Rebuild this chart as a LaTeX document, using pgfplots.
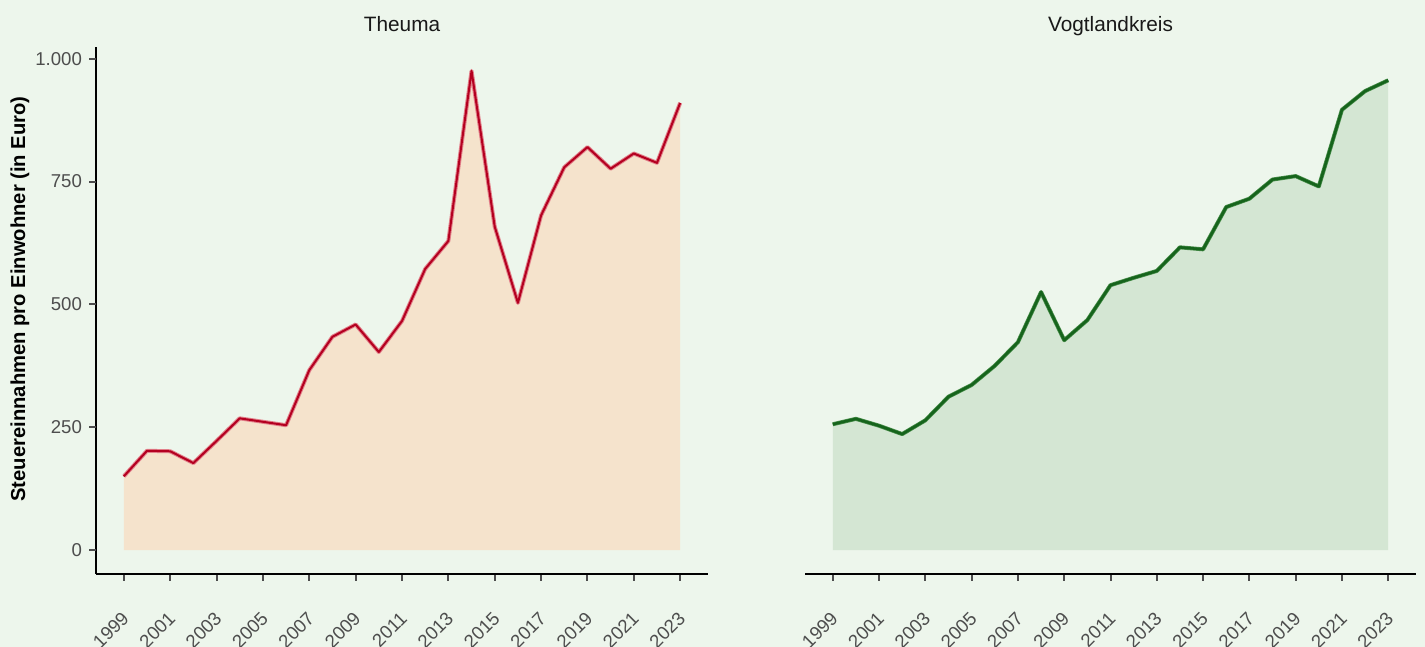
\documentclass[border=0pt]{standalone}
\usepackage{fontspec}
\setmainfont{Liberation Sans}
\usepackage{pgfplots}
\pgfplotsset{compat=1.18}
\definecolor{bgc}{RGB}{237,246,236}
\definecolor{peach}{RGB}{245,227,204}
\definecolor{redline}{RGB}{180,0,32}
\definecolor{redhalo}{RGB}{226,128,138}
\definecolor{greenfill}{RGB}{212,230,211}
\definecolor{greenline}{RGB}{22,100,28}
\definecolor{greenhalo}{RGB}{70,140,72}
\definecolor{tickgray}{RGB}{77,77,77}
\pgfplotsset{
  panel/.style={
    scale only axis,
    height=263.5pt,
    xmin=1997.8, xmax=2024.2,
    ymin=-48.75, ymax=1023.75,
    xtick={1999,2001,2003,2005,2007,2009,2011,2013,2015,2017,2019,2021,2023},
    xticklabels={1999,2001,2003,2005,2007,2009,2011,2013,2015,2017,2019,2021,2023},
    xticklabel style={xshift=-1.5pt, yshift=-14.5pt, rotate=45, anchor=north east, inner sep=0pt, font=\fontsize{9.3}{11}\selectfont, text=tickgray},
    title style={at={(0.5,1)}, anchor=base, yshift=1.7pt, font=\fontsize{10.4}{12}\selectfont, text=black!90},
    axis line style={-, black, line width=0.55pt},
    tick align=outside,
    major tick length=3.5pt,
    every tick/.style={draw=tickgray, line width=1pt},
  }
}
\begin{document}
\begin{tikzpicture}
\path[use as bounding box, fill=bgc] (0,0) rectangle (712.5pt,323.5pt);
\begin{axis}[panel, at={(48pt,36.5pt)}, anchor=south west, width=306pt,
  axis lines=left,
  axis line style={-},
  tick align=outside,
  clip=false,
  ytick={0,250,500,750,1000},
  yticklabels={0,250,500,750,1.000},
  yticklabel style={font=\fontsize{9.3}{11}\selectfont, text=tickgray},
  title={Theuma}]
\addplot[fill=peach, draw=none] coordinates {
(1999,150) (2000,202) (2001,201) (2002,177) (2003,222) (2004,268) (2005,261) (2006,254) (2007,366) (2008,434) (2009,459) (2010,403) (2011,466) (2012,572) (2013,629) (2014,975) (2015,658) (2016,503) (2017,681) (2018,779) (2019,820) (2020,776) (2021,807) (2022,788) (2023,910)
} \closedcycle;
\addplot[draw=redhalo, line width=2pt, line join=round] coordinates {
(1999,150) (2000,202) (2001,201) (2002,177) (2003,222) (2004,268) (2005,261) (2006,254) (2007,366) (2008,434) (2009,459) (2010,403) (2011,466) (2012,572) (2013,629) (2014,975) (2015,658) (2016,503) (2017,681) (2018,779) (2019,820) (2020,776) (2021,807) (2022,788) (2023,910)
};
\addplot[draw=redline, line width=1pt, line join=round] coordinates {
(1999,150) (2000,202) (2001,201) (2002,177) (2003,222) (2004,268) (2005,261) (2006,254) (2007,366) (2008,434) (2009,459) (2010,403) (2011,466) (2012,572) (2013,629) (2014,975) (2015,658) (2016,503) (2017,681) (2018,779) (2019,820) (2020,776) (2021,807) (2022,788) (2023,910)
};
\pgfplotsinvokeforeach{0,250,500,750,1000}{
  \draw[tickgray, line width=1pt] (axis cs:1997.8,#1) -- ([xshift=-3.5pt]axis cs:1997.8,#1);
}
\end{axis}
\begin{axis}[panel, at={(402.5pt,36.5pt)}, anchor=south west, width=305.5pt,
  axis x line=bottom, axis y line=none, ytick=\empty,
  axis line style={-}, tick align=outside,
  title={Vogtlandkreis}]
\addplot[fill=greenfill, draw=none] coordinates {
(1999,256) (2000,267) (2001,253) (2002,236) (2003,264) (2004,312) (2005,336) (2006,375) (2007,423) (2008,525) (2009,427) (2010,468) (2011,539) (2012,554) (2013,568) (2014,616) (2015,612) (2016,698) (2017,715) (2018,754) (2019,761) (2020,740) (2021,896) (2022,934) (2023,956)
} \closedcycle;
\addplot[draw=greenhalo, line width=2pt, line join=round] coordinates {
(1999,256) (2000,267) (2001,253) (2002,236) (2003,264) (2004,312) (2005,336) (2006,375) (2007,423) (2008,525) (2009,427) (2010,468) (2011,539) (2012,554) (2013,568) (2014,616) (2015,612) (2016,698) (2017,715) (2018,754) (2019,761) (2020,740) (2021,896) (2022,934) (2023,956)
};
\addplot[draw=greenline, line width=1.3pt, line join=round] coordinates {
(1999,256) (2000,267) (2001,253) (2002,236) (2003,264) (2004,312) (2005,336) (2006,375) (2007,423) (2008,525) (2009,427) (2010,468) (2011,539) (2012,554) (2013,568) (2014,616) (2015,612) (2016,698) (2017,715) (2018,754) (2019,761) (2020,740) (2021,896) (2022,934) (2023,956)
};
\end{axis}
\node[rotate=90, font=\fontsize{10.1}{12}\selectfont\bfseries, text=black] at (10pt,174pt) {Steuereinnahmen pro Einwohner (in Euro)};
\end{tikzpicture}
\end{document}
